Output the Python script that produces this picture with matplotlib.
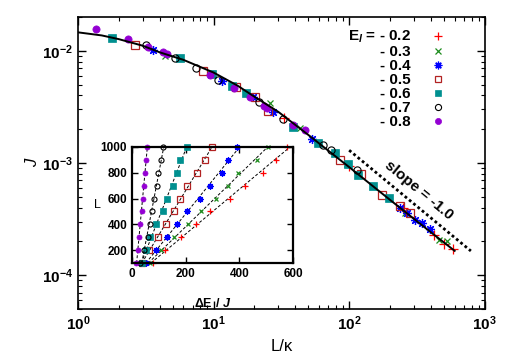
import numpy as np
import matplotlib
matplotlib.use('Agg')
import matplotlib.pyplot as plt
from matplotlib.lines import Line2D

plt.rcParams['font.family'] = ['Liberation Sans', 'DejaVu Sans']
plt.rcParams['font.weight'] = 'bold'
plt.rcParams['mathtext.fontset'] = 'custom'
plt.rcParams['mathtext.rm'] = 'Liberation Sans:bold'
plt.rcParams['mathtext.it'] = 'Liberation Sans:bold:italic'
plt.rcParams['mathtext.bf'] = 'Liberation Sans:bold'

# ---------------- data ----------------
E_levels = ['- 0.2', '- 0.3', '- 0.4', '- 0.5', '- 0.6', '- 0.7', '- 0.8']

# main panel: L/kappa vs J for each E_l
x_02 = [33, 100, 250, 420, 500, 585]
J_02 = [0.0025, 0.00095, 0.0004, 0.00023, 0.00019, 0.000172]
x_03 = [4.4, 26, 43.5, 97, 260, 457, 527]
J_03 = [0.0089, 0.0034, 0.00205, 0.00098, 0.00036, 0.000207, 0.0002]
x_04 = [3.56, 11.5, 19.6, 27.5, 53, 238, 265, 307, 346, 396]
J_04 = [0.0101, 0.0054, 0.0039, 0.00283, 0.00165, 0.000395, 0.00036, 0.00031, 0.00029, 0.00026]
x_05 = [2.63, 8.41, 14.6, 20.2, 25.3, 86, 122, 175, 238, 282]
J_05 = [0.0113, 0.00654, 0.0048, 0.00385, 0.00293, 0.00106, 0.0008, 0.00052, 0.000415, 0.000358]
x_06 = [1.77, 5.66, 9.7, 13.6, 17.4, 38.6, 59, 78.5, 98.8, 117, 150, 197]
J_06 = [0.0131, 0.0086, 0.0062, 0.00489, 0.00417, 0.0021, 0.00151, 0.00123, 0.00098, 0.00078, 0.00062, 0.000485]
x_07 = [3.18, 5.2, 7.43, 10.7, 21.5, 32.7, 64, 74, 114]
J_07 = [0.0113, 0.0086, 0.00702, 0.0055, 0.00347, 0.00245, 0.00145, 0.00131, 0.00087]
x_08 = [1.37, 2.33, 3.3, 4.22, 4.52, 9.42, 14.2, 18.6, 23.4, 25, 38.6, 47]
J_08 = [0.0156, 0.01285, 0.0109, 0.0098, 0.00935, 0.00612, 0.00463, 0.00385, 0.00324, 0.0031, 0.0022, 0.00195]

# fitted curve
curve_x = [1, 1.5, 2, 3, 4, 6, 10, 15, 20, 30, 50, 100, 200, 400, 600]
curve_J = [0.0146, 0.0137, 0.0127, 0.0111, 0.0097, 0.0083, 0.0064, 0.0049, 0.0039,
           0.00286, 0.00178, 0.00092, 0.00047, 0.000242, 0.000165]

# slope -1 guide
slope_x = [100, 790]
slope_J = [0.0013, 0.0001646]

# inset: Delta E / J vs L
L_vals = [100, 200, 300, 400, 500, 600, 700, 800, 900, 1000]
dE_02 = [79, 123, 184, 238, 289, 364, 420, 488, 535, 578]
dE_03 = [67, 108, 157, 207, 257, 312, 358, 395, 466, 507]
dE_04 = [51, 88, 129, 166, 203, 253, 290, 334, 358, 392]
dE_05 = [38, 63, 96, 125, 157, 180, 203, 241, 272, 299]
dE_06 = [36, 51, 67, 88, 117, 129, 154, 166, 179, 203]
dE_07 = [30, 46, 58, 67, 73, 83, 92, 98, 108, 117]
dE_08 = [15, 21, 26, 30, 36, 42, 46, 48, 51, 55]

main_x = [x_02, x_03, x_04, x_05, x_06, x_07, x_08]
main_J = [J_02, J_03, J_04, J_05, J_06, J_07, J_08]
inset_dE = [dE_02, dE_03, dE_04, dE_05, dE_06, dE_07, dE_08]

styles = [
    dict(marker='+', color='#ff0000', mfc='none', ms=6.5, mew=0.9),
    dict(marker='x', color='#1c8c1c', mfc='none', ms=5, mew=0.9),
    dict(marker=(8, 2, 0), color='#0000ff', mfc='none', ms=6.5, mew=0.9),
    dict(marker='s', color='#b22222', mfc='none', ms=5.2, mew=0.9),
    dict(marker='s', color='#009090', mfc='#009090', ms=5.2, mew=0.5),
    dict(marker='o', color='black', mfc='none', ms=5.2, mew=0.8),
    dict(marker='o', color='#9400d3', mfc='#9400d3', ms=5.2, mew=0.5),
]

# ---------------- figure ----------------
fig = plt.figure(figsize=(5.06, 3.54), dpi=100)
ax = fig.add_axes([0.154, 0.127, 0.804, 0.825])

for xs, Js, st in zip(main_x, main_J, styles):
    ax.plot(xs, Js, ls='none', **st)

ax.plot(curve_x, curve_J, color='black', lw=1.4, zorder=5)
ax.plot(slope_x, slope_J, color='black', lw=2.0, ls=(0, (1, 1)), zorder=5)

ax.set_xscale('log')
ax.set_yscale('log')
ax.set_xlim(1, 1000)
ax.set_ylim(5e-5, 2e-2)
ax.tick_params(which='both', direction='in', top=True, right=True, labelsize=11)
ax.tick_params(which='major', length=6, width=1)
ax.tick_params(which='minor', length=3, width=0.8)
for s in ax.spines.values():
    s.set_linewidth(1.2)
ax.set_xlabel('L/κ', fontsize=12, labelpad=5)
ax.set_ylabel('J', fontsize=12, fontstyle='italic', labelpad=1)

ax.text(0.838, 0.405, 'slope = -1.0', transform=ax.transAxes, rotation=-39.5,
        ha='center', va='center', fontsize=11, rotation_mode='anchor')

# legend
handles = [Line2D([], [], ls='none', **st) for st in styles]
labels = ['E$_{l}$ = ' + E_levels[0]] + E_levels[1:]
leg = ax.legend(handles, labels, loc='upper right', bbox_to_anchor=(0.935, 0.99),
                markerfirst=False, frameon=False, fontsize=11, labelspacing=0.0,
                handlelength=1.5, handletextpad=1.0, markerscale=0.85,
                borderaxespad=0.2)

# inset
axi = fig.add_axes([0.261, 0.257, 0.318, 0.328])
axi.set_facecolor('white')
axi.set_zorder(10)
for dE, st in zip(inset_dE, styles):
    a, b = np.polyfit(L_vals, dE, 1)
    Lfit = np.array([min(L_vals), max(L_vals)])
    axi.plot(a * Lfit + b, Lfit, color='black', lw=0.7, ls=(0, (3, 2)))
    st2 = dict(st)
    st2['ms'] = st['ms'] * 0.7
    axi.plot(dE, L_vals, ls='none', clip_on=False, **st2)
axi.set_xlim(0, 600)
axi.set_ylim(100, 1000)
axi.set_xticks([0, 200, 400, 600])
axi.set_yticks([200, 400, 600, 800, 1000])
axi.tick_params(direction='in', top=True, right=True, labelsize=8.5, length=4, width=1)
for s in axi.spines.values():
    s.set_linewidth(1.6)
axi.set_xlabel(r'$\Delta\mathrm{E}\ /\ J$', fontsize=9, labelpad=12)
axi.set_ylabel('L', fontsize=9, rotation=0, labelpad=2, va='center')

fig.savefig('out.png', dpi=100)
